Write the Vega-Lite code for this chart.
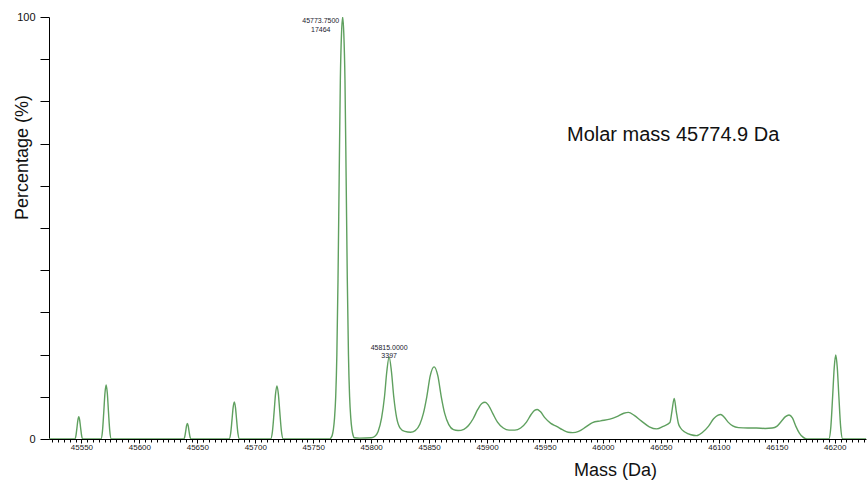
{
  "$schema": "https://vega.github.io/schema/vega-lite/v6.json",
  "width": 817,
  "height": 422,
  "autosize": {"type": "none"},
  "padding": {"left": 49, "top": 17, "right": 1, "bottom": 42},
  "background": "white",
  "config": {"view": {"stroke": null}, "font": "Liberation Sans"},
  "datasets": {
    "spectrum": [
      {"m": 45522, "p": 0},
      {"m": 45544.2, "p": 0}, {"m": 45545.25, "p": 0.8}, {"m": 45546.12, "p": 2.65}, {"m": 45546.93, "p": 4.5}, {"m": 45547.7, "p": 5.3}, {"m": 45548.47, "p": 4.5}, {"m": 45549.28, "p": 2.65}, {"m": 45550.15, "p": 0.8}, {"m": 45551.2, "p": 0},
      {"m": 45566.8, "p": 0}, {"m": 45568.15, "p": 1.9}, {"m": 45569.27, "p": 6.4}, {"m": 45570.3, "p": 10.9}, {"m": 45571.3, "p": 12.8}, {"m": 45572.3, "p": 10.9}, {"m": 45573.33, "p": 6.4}, {"m": 45574.45, "p": 1.9}, {"m": 45575.8, "p": 0},
      {"m": 45638.2, "p": 0}, {"m": 45639.16, "p": 0.55}, {"m": 45639.96, "p": 1.85}, {"m": 45640.7, "p": 3.15}, {"m": 45641.4, "p": 3.7}, {"m": 45642.1, "p": 3.15}, {"m": 45642.84, "p": 1.85}, {"m": 45643.64, "p": 0.55}, {"m": 45644.6, "p": 0},
      {"m": 45677.4, "p": 0}, {"m": 45678.75, "p": 1.3}, {"m": 45679.87, "p": 4.4}, {"m": 45680.9, "p": 7.5}, {"m": 45681.9, "p": 8.8}, {"m": 45682.9, "p": 7.5}, {"m": 45683.93, "p": 4.4}, {"m": 45685.05, "p": 1.3}, {"m": 45686.4, "p": 0},
      {"m": 45713.2, "p": 0}, {"m": 45714.85, "p": 1.9}, {"m": 45716.22, "p": 6.3}, {"m": 45717.49, "p": 10.7}, {"m": 45718.7, "p": 12.6}, {"m": 45719.91, "p": 10.7}, {"m": 45721.18, "p": 6.3}, {"m": 45722.55, "p": 1.9}, {"m": 45724.2, "p": 0},
      {"m": 45764.4, "p": 0}, {"m": 45765.4, "p": 0.3}, {"m": 45766.4, "p": 0.9}, {"m": 45767.4, "p": 2.3}, {"m": 45768.4, "p": 5}, {"m": 45769.4, "p": 10}, {"m": 45770.4, "p": 20}, {"m": 45771.4, "p": 38}, {"m": 45772.4, "p": 62}, {"m": 45773.4, "p": 85}, {"m": 45774.4, "p": 96}, {"m": 45775.4, "p": 100}, {"m": 45776.4, "p": 96}, {"m": 45777.4, "p": 85}, {"m": 45778.4, "p": 62}, {"m": 45779.4, "p": 38}, {"m": 45780.4, "p": 20}, {"m": 45781.4, "p": 10}, {"m": 45782.4, "p": 5}, {"m": 45783.4, "p": 2.3}, {"m": 45784.4, "p": 0.9}, {"m": 45785.4, "p": 0.3},
      {"m": 45790, "p": 0.2}, {"m": 45800, "p": 0.3},
      {"m": 45803, "p": 0.6}, {"m": 45806, "p": 1.8}, {"m": 45809, "p": 5}, {"m": 45811.5, "p": 10}, {"m": 45813.5, "p": 16}, {"m": 45815.5, "p": 19.45}, {"m": 45817.5, "p": 16}, {"m": 45819.5, "p": 10}, {"m": 45822, "p": 5}, {"m": 45825, "p": 2.6}, {"m": 45829, "p": 1.8}, {"m": 45834, "p": 1.6},
      {"m": 45838, "p": 2.0}, {"m": 45842, "p": 3.5}, {"m": 45845, "p": 6}, {"m": 45848, "p": 10}, {"m": 45851, "p": 15}, {"m": 45854.3, "p": 17.1}, {"m": 45857.5, "p": 15}, {"m": 45860.5, "p": 10}, {"m": 45863.5, "p": 6}, {"m": 45867, "p": 3.4}, {"m": 45871, "p": 2.2}, {"m": 45875, "p": 2.0},
      {"m": 45880, "p": 2.3}, {"m": 45884, "p": 3.2}, {"m": 45888, "p": 4.8}, {"m": 45892, "p": 7}, {"m": 45895.5, "p": 8.4}, {"m": 45898.3, "p": 8.7}, {"m": 45901, "p": 8.1}, {"m": 45905, "p": 6.0}, {"m": 45909, "p": 4}, {"m": 45914, "p": 2.6}, {"m": 45919, "p": 2.1}, {"m": 45924, "p": 2.1},
      {"m": 45929, "p": 2.6}, {"m": 45934, "p": 4}, {"m": 45938, "p": 5.8}, {"m": 45941, "p": 6.8}, {"m": 45943.4, "p": 7.0}, {"m": 45946, "p": 6.5}, {"m": 45950, "p": 5}, {"m": 45955, "p": 3.7}, {"m": 45960, "p": 3.0}, {"m": 45965, "p": 2.2}, {"m": 45970, "p": 1.6}, {"m": 45974, "p": 1.5},
      {"m": 45979, "p": 1.8}, {"m": 45985, "p": 2.8}, {"m": 45991, "p": 3.9}, {"m": 45998, "p": 4.3}, {"m": 46006, "p": 4.7}, {"m": 46012, "p": 5.3}, {"m": 46018, "p": 6.1}, {"m": 46022, "p": 6.3}, {"m": 46027, "p": 5.6}, {"m": 46033, "p": 4.3}, {"m": 46040, "p": 2.9}, {"m": 46046.3, "p": 2.4},
      {"m": 46052, "p": 3.0}, {"m": 46057.8, "p": 3.9}, {"m": 46059.5, "p": 6.5}, {"m": 46061.5, "p": 9.6}, {"m": 46063.3, "p": 6.5}, {"m": 46065, "p": 3.8}, {"m": 46067, "p": 2.6}, {"m": 46071, "p": 1.6}, {"m": 46076, "p": 1.0}, {"m": 46080.8, "p": 0.8},
      {"m": 46086, "p": 1.6}, {"m": 46091, "p": 3}, {"m": 46095.5, "p": 4.8}, {"m": 46099, "p": 5.6}, {"m": 46101.7, "p": 5.8}, {"m": 46104.5, "p": 5.2}, {"m": 46108, "p": 4}, {"m": 46112, "p": 3.1}, {"m": 46117, "p": 2.7}, {"m": 46125, "p": 2.6}, {"m": 46132.5, "p": 2.6}, {"m": 46140, "p": 2.5}, {"m": 46146, "p": 2.6},
      {"m": 46150, "p": 3.0}, {"m": 46154, "p": 4.2}, {"m": 46157.5, "p": 5.3}, {"m": 46160.6, "p": 5.7}, {"m": 46163.5, "p": 5}, {"m": 46166.5, "p": 3}, {"m": 46169.5, "p": 1.4}, {"m": 46172.4, "p": 0.5}, {"m": 46176, "p": 0},
      {"m": 46194.9, "p": 0}, {"m": 46196.7, "p": 3.0}, {"m": 46198.2, "p": 10}, {"m": 46199.58, "p": 16.9}, {"m": 46200.9, "p": 19.9}, {"m": 46202.22, "p": 16.9}, {"m": 46203.6, "p": 10}, {"m": 46205.1, "p": 3.0}, {"m": 46206.9, "p": 0}, {"m": 46227, "p": 0}
    ],
    "labels": [
      {"m": 45756.5, "p": 99.0, "label": "45773.7500\n17464"},
      {"m": 45815.5, "p": 21.6, "label": "45815.0000\n3397"}
    ],
    "note": [
      {"m": 45969, "p": 72.0, "label": "Molar mass 45774.9 Da"}
    ]
  },
  "resolve": {"axis": {"x": "independent"}},
  "layer": [
    {
      "data": {"name": "spectrum"},
      "mark": {"type": "line", "interpolate": "monotone", "color": "#5fa05f", "strokeWidth": 1.4, "clip": true},
      "encoding": {
        "x": {
          "field": "m", "type": "quantitative",
          "scale": {"domain": [45522, 46227], "nice": false, "zero": false},
          "axis": {
            "orient": "bottom",
            "title": "Mass (Da)",
            "format": "d",
            "values": [45550,45600,45650,45700,45750,45800,45850,45900,45950,46000,46050,46100,46150,46200],
            "labelFontSize": 8,
            "labelColor": "#222",
            "labelPadding": 0,
            "labelFlush": false,
            "labelOverlap": false,
            "tickSize": 4,
            "tickColor": "#000",
            "domainColor": "#000",
            "grid": false,
            "titleFontSize": 18,
            "titleFontWeight": "normal",
            "titleColor": "#111",
            "titleX": 566,
            "titleY": 31,
            "titleAlign": "center",
            "titleBaseline": "middle"
          }
        },
        "y": {
          "field": "p", "type": "quantitative",
          "scale": {"domain": [0, 100], "nice": false},
          "axis": {
            "title": "Percentage (%)",
            "values": [0,10,20,30,40,50,60,70,80,90,100],
            "labelExpr": "datum.value === 0 || datum.value === 100 ? datum.label : ''",
            "labelFontSize": 11,
            "labelColor": "#111",
            "labelPadding": 5,
            "tickSize": 9,
            "tickColor": "#000",
            "domainColor": "#000",
            "grid": false,
            "titleFontSize": 18,
            "titleFontWeight": "normal",
            "titleColor": "#111",
            "titleX": -27,
            "titleY": 140,
            "titleAngle": 270,
            "titleAlign": "center",
            "titleBaseline": "middle"
          }
        }
      }
    },
    {
      "data": {"name": "labels"},
      "mark": {"type": "text", "fontSize": 7, "lineBreak": "\n", "lineHeight": 8.5, "align": "center", "baseline": "middle", "color": "#1a1a2e"},
      "encoding": {
        "x": {
          "field": "m", "type": "quantitative",
          "axis": {
            "orient": "bottom",
            "title": null,
            "labels": false,
            "domain": false,
            "grid": false,
            "tickSize": 3,
            "tickColor": "#000",
            "offset": 0,
            "values": [45525,45530,45535,45540,45545,45555,45560,45565,45570,45575,45580,45585,45590,45595,45605,45610,45615,45620,45625,45630,45635,45640,45645,45655,45660,45665,45670,45675,45680,45685,45690,45695,45705,45710,45715,45720,45725,45730,45735,45740,45745,45755,45760,45765,45770,45775,45780,45785,45790,45795,45805,45810,45815,45820,45825,45830,45835,45840,45845,45855,45860,45865,45870,45875,45880,45885,45890,45895,45905,45910,45915,45920,45925,45930,45935,45940,45945,45955,45960,45965,45970,45975,45980,45985,45990,45995,46005,46010,46015,46020,46025,46030,46035,46040,46045,46055,46060,46065,46070,46075,46080,46085,46090,46095,46105,46110,46115,46120,46125,46130,46135,46140,46145,46155,46160,46165,46170,46175,46180,46185,46190,46195,46205,46210,46215,46220,46225]
          }
        },
        "y": {"field": "p", "type": "quantitative"},
        "text": {"field": "label"}
      }
    },
    {
      "data": {"name": "note"},
      "mark": {"type": "text", "fontSize": 20, "align": "left", "baseline": "middle", "color": "#111"},
      "encoding": {
        "x": {"field": "m", "type": "quantitative", "axis": null},
        "y": {"field": "p", "type": "quantitative"},
        "text": {"field": "label"}
      }
    }
  ]
}
